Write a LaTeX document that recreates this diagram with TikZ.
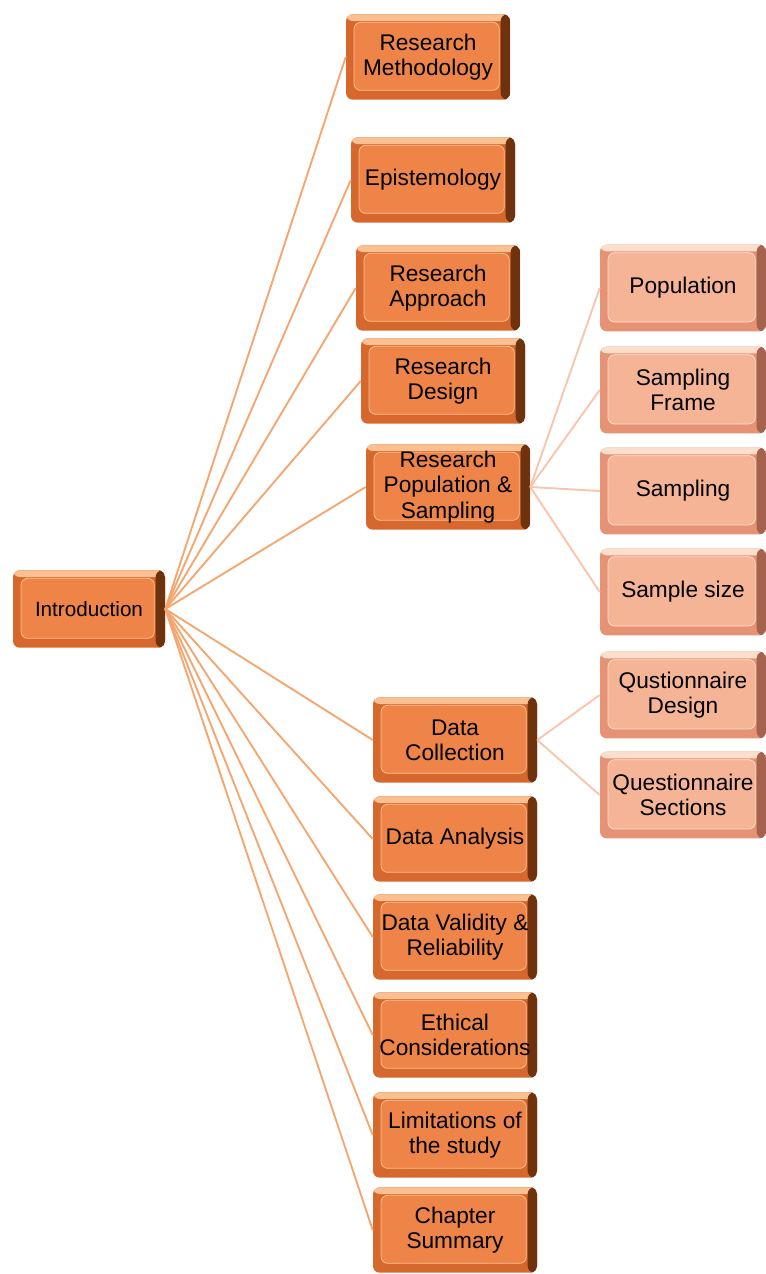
\documentclass[tikz,border=0pt]{standalone}
\usepackage{fontspec}
\setmainfont{Liberation Sans}
\definecolor{mainface}{RGB}{238,132,72}
\definecolor{mainedge}{RGB}{214,104,45}
\definecolor{mainhi}{RGB}{250,192,145}
\definecolor{maindark}{RGB}{110,50,15}
\definecolor{subface}{RGB}{246,180,150}
\definecolor{subedge}{RGB}{230,146,116}
\definecolor{subhi}{RGB}{252,222,204}
\definecolor{subdark}{RGB}{165,98,78}
\definecolor{mainline}{RGB}{245,165,110}
\definecolor{subline}{RGB}{248,196,172}
\begin{document}
\begin{tikzpicture}[x=0.75pt,y=-0.75pt,
  bevel/.style n args={4}{fill=#2, rounded corners=5pt, inner sep=0pt, align=center,
    font=\fontsize{17}{19}\selectfont, minimum width=123pt, minimum height=64pt,
    path picture={
      \fill[#3] (path picture bounding box.north west) rectangle ([yshift=-5pt]path picture bounding box.north east);
      \fill[#4] ([xshift=-7pt]path picture bounding box.north east) rectangle (path picture bounding box.south east);
      \fill[#1,draw=#3,line width=0.6pt] ([shift={(6pt,-6pt)}]path picture bounding box.north west) rectangle ([shift={(-8pt,7pt)}]path picture bounding box.south east);}},
  mainbox/.style={bevel={mainface}{mainedge}{mainhi}{maindark}},
  subbox/.style={bevel={subface}{subedge}{subhi}{subdark}, minimum width=124.5pt, minimum height=65pt},
  link/.style={draw=mainline, line width=1.4pt},
  sublink/.style={draw=subline, line width=1.4pt}]
\useasboundingbox (0,0) rectangle (766,1274);
% root
\node[mainbox, minimum width=114pt, minimum height=58pt, font=\fontsize{15.5}{18}\selectfont] (intro) at (89,609) {Introduction};
% main sections
\node[mainbox] (method)   at (428,57)   {Research\\Methodology};
\node[mainbox] (episte)   at (433,180)  {Epistemology};
\node[mainbox] (approach) at (438,288)  {Research\\Approach};
\node[mainbox] (design)   at (443,381)  {Research\\Design};
\node[mainbox] (popsamp)  at (448,487)  {Research\\Population \&\\Sampling};
\node[mainbox] (collect)  at (455,740)  {Data\\Collection};
\node[mainbox] (analysis) at (455,839)  {Data Analysis};
\node[mainbox] (validity) at (455,937)  {Data Validity \&\\Reliability};
\node[mainbox] (ethics)   at (455,1035) {Ethical\\Considerations};
\node[mainbox] (limits)   at (455,1135) {Limitations of\\the study};
\node[mainbox] (summary)  at (455,1230) {Chapter\\Summary};
% sub sections
\node[subbox] (pop)       at (683,288) {Population};
\node[subbox] (frame)     at (683,390) {Sampling\\Frame};
\node[subbox] (sampling)  at (683,491) {Sampling};
\node[subbox] (size)      at (683,592) {Sample size};
\node[subbox] (qdesign)   at (683,695) {Qustionnaire\\Design};
\node[subbox] (qsections) at (683,795) {Questionnaire\\Sections};
% links
\foreach \n in {method,episte,approach,design,popsamp,collect,analysis,validity,ethics,limits,summary}
  \draw[link] (intro.east) -- (\n.west);
\foreach \n in {pop,frame,sampling,size}
  \draw[sublink] (popsamp.east) -- (\n.west);
\foreach \n in {qdesign,qsections}
  \draw[sublink] (collect.east) -- (\n.west);
\end{tikzpicture}
\end{document}
